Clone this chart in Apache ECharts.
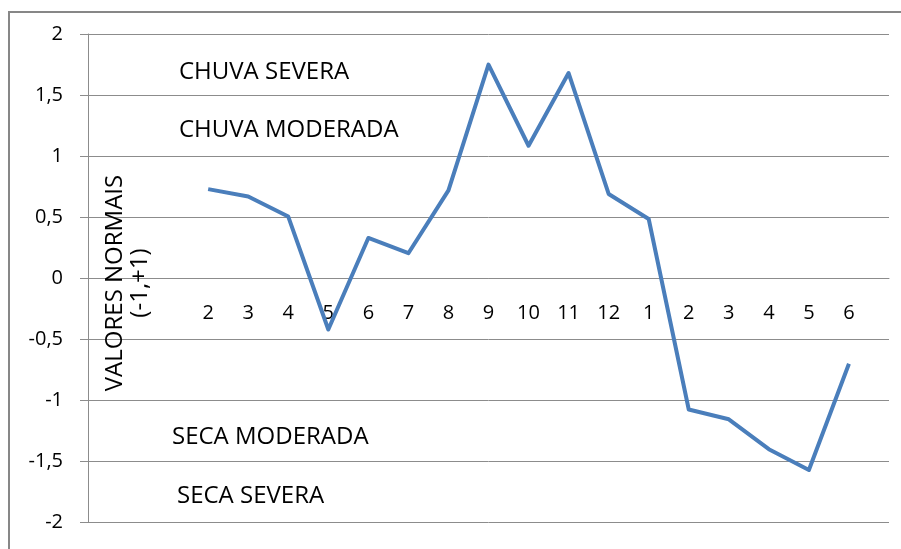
<!DOCTYPE html>
<html>
<head>
<meta charset="utf-8">
<script src="https://cdn.jsdelivr.net/npm/echarts@6/dist/echarts.min.js"></script>
<style>
html,body{margin:0;padding:0;background:#fff;}
#chart{width:901px;height:549px;}
</style>
</head>
<body>
<div id="chart"></div>
<script>
// Month labels (Feb of year 1 to Jun of year 2)
var months = ['2','3','4','5','6','7','8','9','10','11','12','1','2','3','4','5','6'];
// Normalized values
var values = [0.73, 0.67, 0.505, -0.42, 0.33, 0.205, 0.72, 1.75, 1.085, 1.68, 0.69, 0.485, -1.075, -1.155, -1.40, -1.57, -0.70];
// Y-axis ticks
var yMin = -2, yMax = 2, yStep = 0.5;
// Band annotations
var bandLabels = ['CHUVA SEVERA', 'CHUVA MODERADA', 'SECA MODERADA', 'SECA SEVERA'];
var yAxisTitle = 'VALORES NORMAIS\n(-1,+1)';

var FONT = '"Open Sans", sans-serif';
var W = 901, H = 549;
var gridTop = 34, gridBottom = 26.5, gridLeft = 88, gridRight = 12;
var gridH = H - gridTop - gridBottom;
// place the category axis at value 0 (like Excel's crossing axis)
var xOffset = -gridH * (0 - yMin) / (yMax - yMin);

var lead = 3, trail = 1;
var cats = [];
var data = [];
for (var i = 0; i < lead; i++) { cats.push(''); data.push('-'); }
for (var j = 0; j < months.length; j++) { cats.push(months[j]); data.push(values[j]); }
for (var k = 0; k < trail; k++) { cats.push(''); data.push('-'); }

var annPos = [
  {x: 179, y: 72},
  {x: 179, y: 130},
  {x: 172, y: 437},
  {x: 177, y: 496}
];

var chart = echarts.init(document.getElementById('chart'), null, {renderer: 'canvas'});
chart.setOption({
  animation: false,
  backgroundColor: '#ffffff',
  grid: {left: gridLeft, right: gridRight, top: gridTop, bottom: gridBottom, containLabel: false, outerBoundsMode: 'none'},
  xAxis: {
    type: 'category',
    data: cats,
    boundaryGap: false,
    position: 'bottom',
    offset: xOffset,
    axisLine: {show: true, onZero: false, lineStyle: {color: '#8c8c8c', width: 1}},
    axisTick: {show: false},
    axisLabel: {interval: 0, margin: 25, fontSize: 20, color: '#000', fontFamily: FONT},
    splitLine: {show: false}
  },
  yAxis: {
    type: 'value',
    min: yMin, max: yMax, interval: yStep,
    axisLine: {show: true, lineStyle: {color: '#8c8c8c', width: 1}},
    axisTick: {show: true, length: 8, lineStyle: {color: '#8c8c8c', width: 1}},
    axisLabel: {
      margin: 25, fontSize: 20, color: '#000', fontFamily: FONT,
      formatter: function (v) { return String(v).replace('.', ','); }
    },
    splitLine: {show: true, lineStyle: {color: '#8c8c8c', width: 1}}
  },
  series: [{
    type: 'line',
    data: data,
    showSymbol: false,
    symbol: 'none',
    smooth: false,
    connectNulls: false,
    lineStyle: {color: '#4a7ebb', width: 4, join: 'round'},
    itemStyle: {color: '#4a7ebb'}
  }],
  graphic: [
    {type: 'rect', shape: {x: 9, y: 12, width: 910, height: 560}, style: {fill: 'none', stroke: '#878787', lineWidth: 2}, z: 100},
    {type: 'text', x: 128, y: 283, rotation: Math.PI / 2,
     style: {text: yAxisTitle, font: '24px ' + FONT, fill: '#000', align: 'center', verticalAlign: 'middle', lineHeight: 25}, z: 100}
  ].concat(bandLabels.map(function (t, i) {
    return {type: 'text', x: annPos[i].x, y: annPos[i].y, style: {text: t, font: '24px ' + FONT, fill: '#000', verticalAlign: 'middle', align: 'left'}, z: 100};
  }))
});
</script>
</body>
</html>
